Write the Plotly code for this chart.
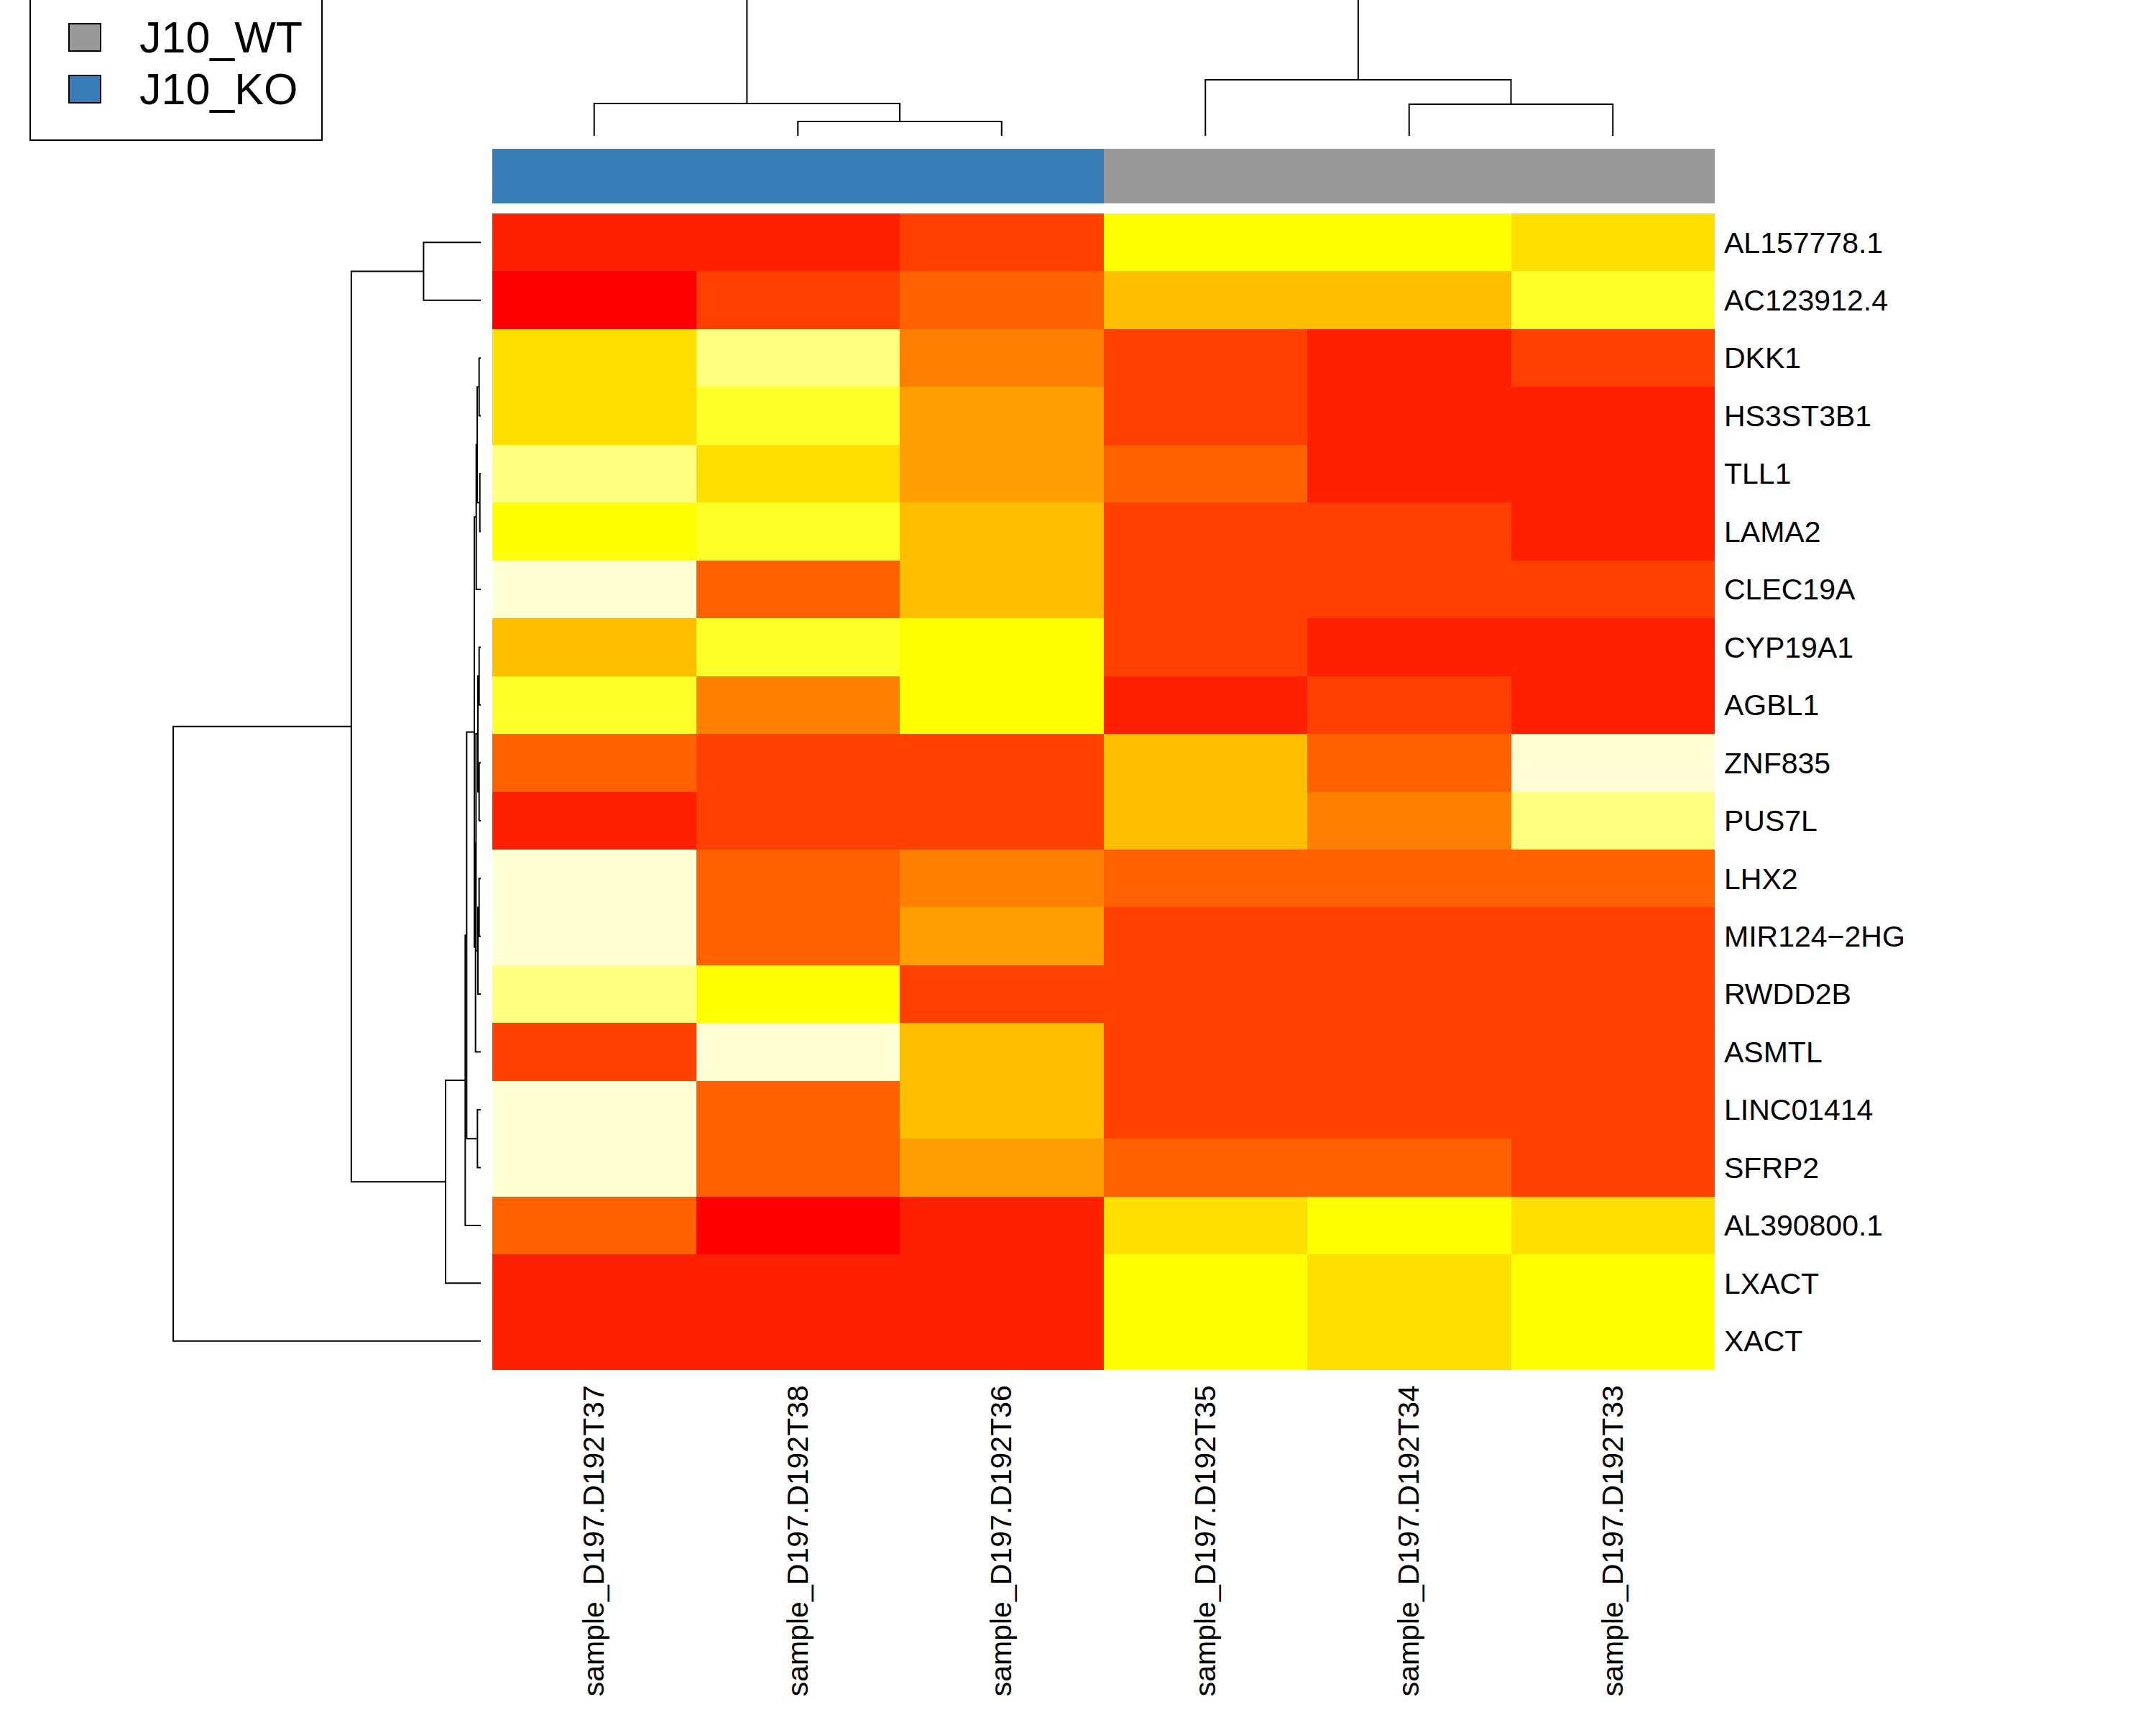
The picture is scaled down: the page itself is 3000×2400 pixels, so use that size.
import plotly.graph_objects as go

# ---------------- data ----------------
genes = ["AL157778.1", "AC123912.4", "DKK1", "HS3ST3B1", "TLL1", "LAMA2", "CLEC19A",
         "CYP19A1", "AGBL1", "ZNF835", "PUS7L", "LHX2", "MIR124\u22122HG", "RWDD2B",
         "ASMTL", "LINC01414", "SFRP2", "AL390800.1", "LXACT", "XACT"]
samples = ["sample_D197.D192T37", "sample_D197.D192T38", "sample_D197.D192T36",
           "sample_D197.D192T35", "sample_D197.D192T34", "sample_D197.D192T33"]
sample_group = [1, 1, 1, 0, 0, 0]          # index into group_names
group_names = ["J10_WT", "J10_KO"]
group_colors = ["#999999", "#377EB8"]

# row-scaled expression (z), rows in display order, columns as samples
z_AL157778 = [-2.3, -2.3, -1.8, 1.3, 1.3, 0.8]
z_AC123912 = [-2.8, -1.8, -1.3, 0.3, 0.3, 1.8]
z_DKK1 = [0.8, 2.3, -0.8, -1.8, -2.3, -1.8]
z_HS3ST3B1 = [0.8, 1.8, -0.3, -1.8, -2.3, -2.3]
z_TLL1 = [2.3, 0.8, -0.3, -1.3, -2.3, -2.3]
z_LAMA2 = [1.3, 1.8, 0.3, -1.8, -1.8, -2.3]
z_CLEC19A = [2.8, -1.3, 0.3, -1.8, -1.8, -1.8]
z_CYP19A1 = [0.3, 1.8, 1.3, -1.8, -2.3, -2.3]
z_AGBL1 = [1.8, -0.8, 1.3, -2.3, -1.8, -2.3]
z_ZNF835 = [-1.3, -1.8, -1.8, 0.3, -1.3, 2.8]
z_PUS7L = [-2.3, -1.8, -1.8, 0.3, -0.8, 2.3]
z_LHX2 = [2.8, -1.3, -0.8, -1.3, -1.3, -1.3]
z_MIR124 = [2.8, -1.3, -0.3, -1.8, -1.8, -1.8]
z_RWDD2B = [2.3, 1.3, -1.8, -1.8, -1.8, -1.8]
z_ASMTL = [-1.8, 2.8, 0.3, -1.8, -1.8, -1.8]
z_LINC01414 = [2.8, -1.3, 0.3, -1.8, -1.8, -1.8]
z_SFRP2 = [2.8, -1.3, -0.3, -1.3, -1.3, -1.8]
z_AL390800 = [-1.3, -2.8, -2.3, 0.8, 1.3, 0.8]
z_LXACT = [-2.3, -2.3, -2.3, 1.3, 0.8, 1.3]
z_XACT = [-2.3, -2.3, -2.3, 1.3, 0.8, 1.3]

# heat.colors(12), red -> pale yellow, over breaks zmin..zmax
heat_colors = ["#FF0000", "#FF2000", "#FF4000", "#FF6000", "#FF8000", "#FF9F00",
               "#FFBF00", "#FFDF00", "#FFFF00", "#FFFF2A", "#FFFF80", "#FFFFD5"]
z_min, z_max = -3.0, 3.0

# hierarchical clustering merges: (left, right, height); ids >= n refer to earlier merges
row_merges = [(2, 3, 7), (4, 5, 4), (20, 21, 15), (22, 6, 19), (7, 8, 7), (9, 10, 7),
              (24, 25, 12), (11, 12, 7), (27, 13, 12), (26, 28, 20), (29, 14, 22),
              (23, 30, 27), (15, 16, 14), (31, 32, 59), (33, 17, 65), (34, 18, 147),
              (0, 1, 239), (36, 35, 541), (37, 19, 1285)]
col_merges = [(1, 2, 20), (0, 6, 45), (4, 5, 44), (3, 8, 78), (7, 9, 260)]

# ---------------- helpers ----------------
W, H = 3000, 2400


def px(x):
    return x / W


def py(y):
    return 1 - y / H


def dendro(n, merges):
    pos = list(range(n))
    hgt = [0] * n
    p_list, h_list = [], []
    for a, b, h in merges:
        pa, pb, ha, hb = pos[a], pos[b], hgt[a], hgt[b]
        p_list += [pa, pa, pb, pb, None]
        h_list += [ha, h, h, hb, None]
        pos.append((pa + pb) / 2)
        hgt.append(h)
    return p_list, h_list


z = [z_AL157778, z_AC123912, z_DKK1, z_HS3ST3B1, z_TLL1, z_LAMA2, z_CLEC19A, z_CYP19A1,
     z_AGBL1, z_ZNF835, z_PUS7L, z_LHX2, z_MIR124, z_RWDD2B, z_ASMTL, z_LINC01414,
     z_SFRP2, z_AL390800, z_LXACT, z_XACT]

nc = len(heat_colors)
cscale = []
for k, c in enumerate(heat_colors):
    cscale.append([k / nc, c])
    cscale.append([(k + 1) / nc, c])

FONT = "Liberation Sans, Arial, sans-serif"

fig = go.Figure()

# main heatmap
fig.add_trace(go.Heatmap(
    z=z, x=list(range(len(samples))), y=list(range(len(genes))),
    colorscale=cscale, zmin=z_min, zmax=z_max, showscale=False,
    xaxis="x", yaxis="y", hoverinfo="skip"))

# column side colours
gscale = [[0, group_colors[0]], [0.5, group_colors[0]], [0.5, group_colors[1]], [1, group_colors[1]]]
fig.add_trace(go.Heatmap(
    z=[sample_group], x=list(range(len(samples))), y=[0],
    colorscale=gscale, zmin=0, zmax=1, showscale=False,
    xaxis="x", yaxis="y2", hoverinfo="skip"))

# column dendrogram
cp, ch = dendro(len(samples), col_merges)
fig.add_trace(go.Scatter(x=cp, y=ch, mode="lines", line=dict(color="black", width=2),
                         xaxis="x", yaxis="y3", hoverinfo="skip", showlegend=False))

# row dendrogram
rp, rh = dendro(len(genes), row_merges)
fig.add_trace(go.Scatter(x=rh, y=rp, mode="lines", line=dict(color="black", width=2),
                         xaxis="x2", yaxis="y", hoverinfo="skip", showlegend=False))

hm_x = [px(685), px(2386)]
fig.update_layout(
    width=W, height=H, margin=dict(l=0, r=0, t=0, b=0),
    paper_bgcolor="white", plot_bgcolor="white", showlegend=False,
    font=dict(family=FONT, color="black"),
    xaxis=dict(domain=hm_x, range=[-0.5, len(samples) - 0.5], anchor="y",
               tickmode="array", tickvals=list(range(len(samples))), ticktext=samples,
               tickangle=-90, ticks="", showgrid=False, zeroline=False, showline=False,
               tickfont=dict(size=41, family=FONT, color="black"), ticklabelstandoff=12),
    yaxis=dict(domain=[py(1906), py(297)], range=[len(genes) - 0.5, -0.5], anchor="x",
               side="right", tickmode="array", tickvals=list(range(len(genes))),
               ticktext=genes, ticks="", showgrid=False, zeroline=False, showline=False,
               tickfont=dict(size=41, family=FONT, color="black"), ticklabelstandoff=12),
    yaxis2=dict(domain=[py(283), py(207)], range=[-0.5, 0.5], anchor="x", visible=False),
    yaxis3=dict(domain=[py(189), 1.0], range=[0, 189], anchor="x", visible=False),
    xaxis2=dict(domain=[px(221), px(669)], range=[1345, 0], anchor="y", visible=False),
)

# legend (box top runs off the top edge)
shapes = [dict(type="path", xref="paper", yref="paper",
               path=f"M {px(42)},{py(-20)} L {px(42)},{py(195)} L {px(448)},{py(195)} L {px(448)},{py(-20)}",
               line=dict(color="black", width=2), fillcolor="rgba(0,0,0,0)")]
annotations = []
leg_y = [52, 124]
for name, col, yc in zip(group_names, group_colors, leg_y):
    shapes.append(dict(type="rect", xref="paper", yref="paper",
                       x0=px(96), x1=px(140), y0=py(yc - 19), y1=py(yc + 19),
                       line=dict(color="black", width=2), fillcolor=col))
    annotations.append(dict(text=name, xref="paper", yref="paper", x=px(192), y=py(yc),
                            xanchor="left", yanchor="middle", showarrow=False,
                            font=dict(size=61, family=FONT, color="black")))
fig.update_layout(shapes=shapes, annotations=annotations)

fig.write_html("out.html", config={"displayModeBar": False},
               post_script="document.body.style.margin='0px';")
